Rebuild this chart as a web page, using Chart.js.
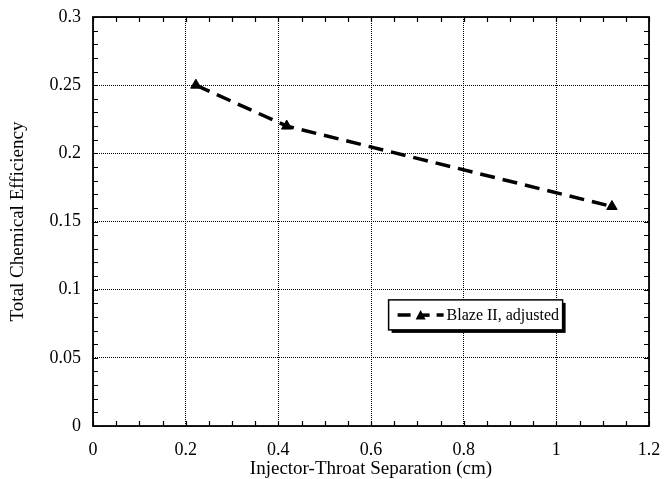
<!DOCTYPE html>
<html>
<head>
<meta charset="utf-8">
<script src="https://cdn.jsdelivr.net/npm/chart.js@4/dist/chart.umd.min.js"></script>
<style>
  html, body { margin: 0; padding: 0; background: #fff; }
  #wrap { width: 665px; height: 479px; }
</style>
</head>
<body>
<div id="wrap"><canvas id="c" width="665" height="479"></canvas></div>
<script>
// Injector-throat separation (cm) and total chemical efficiency
const separation = [0.222, 0.418, 1.12];
const efficiency = [0.25, 0.22, 0.161];
const seriesLabel = 'Blaze II, adjusted';

const xTickValues = [0, 0.2, 0.4, 0.6, 0.8, 1, 1.2];
const xTickLabels = ['0', '0.2', '0.4', '0.6', '0.8', '1', '1.2'];
const yTickValues = [0, 0.05, 0.1, 0.15, 0.2, 0.25, 0.3];
const yTickLabels = ['0', '0.05', '0.1', '0.15', '0.2', '0.25', '0.3'];

const FONT = '"Liberation Serif", "Times New Roman", serif';

function labelFor(values, labels, v) {
  for (let i = 0; i < values.length; i++) {
    if (Math.abs(values[i] - v) < 1e-6) return labels[i];
  }
  return '';
}

// Plot frame with inward minor ticks on all four sides
const framePlugin = {
  id: 'frame',
  afterDatasetsDraw(chart) {
    const { ctx, chartArea: a, scales } = chart;
    const xs = scales.x, ys = scales.y;
    ctx.save();
    ctx.strokeStyle = '#000';
    ctx.lineWidth = 1.2;
    ctx.beginPath();
    for (let i = 0; i <= 24; i++) {
      const px = Math.round(xs.getPixelForValue(i * 0.05)) + 0.5;
      ctx.moveTo(px, a.bottom); ctx.lineTo(px, a.bottom - 5);
      ctx.moveTo(px, a.top); ctx.lineTo(px, a.top + 5);
    }
    for (let i = 0; i <= 30; i++) {
      const py = Math.round(ys.getPixelForValue(i * 0.01)) + 0.5;
      ctx.moveTo(a.left, py); ctx.lineTo(a.left + 5, py);
      ctx.moveTo(a.right, py); ctx.lineTo(a.right - 5, py);
    }
    ctx.stroke();
    ctx.lineWidth = 1.8;
    ctx.strokeRect(a.left, a.top, a.right - a.left, a.bottom - a.top);
    ctx.restore();
  }
};

// Boxed legend with drop shadow inside the plot area
const legendBoxPlugin = {
  id: 'legendBox',
  afterDraw(chart) {
    const { ctx, scales } = chart;
    const ds = chart.data.datasets[0];
    const x0 = scales.x.getPixelForValue(0.638);
    const y0 = scales.y.getPixelForValue(0.0925);
    const w = 174, h = 30;
    ctx.save();
    ctx.fillStyle = '#000';
    ctx.fillRect(x0 + 3, y0 + 3, w, h);
    ctx.fillStyle = '#fff';
    ctx.fillRect(x0, y0, w, h);
    ctx.strokeStyle = '#000';
    ctx.lineWidth = 1.5;
    ctx.strokeRect(x0, y0, w, h);
    const cy = y0 + h / 2;
    ctx.fillStyle = '#000';
    ctx.lineWidth = 3.5;
    ctx.beginPath();
    ctx.moveTo(x0 + 9, cy); ctx.lineTo(x0 + 22, cy);
    ctx.moveTo(x0 + 48, cy); ctx.lineTo(x0 + 55, cy);
    ctx.stroke();
    ctx.beginPath();
    ctx.moveTo(x0 + 27, cy + 4.5); ctx.lineTo(x0 + 32, cy - 5); ctx.lineTo(x0 + 37, cy + 4.5);
    ctx.closePath();
    ctx.fill();
    ctx.fillRect(x0 + 33, cy - 1.5, 8, 3.5);
    ctx.font = '16px ' + FONT;
    ctx.textBaseline = 'middle';
    ctx.textAlign = 'left';
    ctx.fillText(ds.label, x0 + 58, cy + 1);
    ctx.restore();
  }
};

new Chart(document.getElementById('c'), {
  type: 'scatter',
  data: {
    datasets: [{
      label: seriesLabel,
      data: separation.map((x, i) => ({ x: x, y: efficiency[i] })),
      showLine: true,
      borderColor: '#000',
      backgroundColor: '#000',
      borderWidth: 3.5,
      borderDash: [15, 8],
      tension: 0,
      pointStyle: 'triangle',
      pointRadius: 6,
      pointBorderWidth: 1,
      pointBackgroundColor: '#000',
      pointBorderColor: '#000'
    }]
  },
  options: {
    responsive: false,
    animation: false,
    devicePixelRatio: 1,
    layout: { padding: { left: 0, right: 16, top: 17, bottom: 0 } },
    plugins: { legend: { display: false }, tooltip: { enabled: false } },
    scales: {
      x: {
        type: 'linear',
        min: 0, max: 1.2,
        afterFit(s) { s.height = 53; s.paddingLeft = 0; s.paddingRight = 0; },
        afterBuildTicks(s) { s.ticks = xTickValues.map(v => ({ value: v })); },
        ticks: {
          color: '#000',
          font: { family: FONT, size: 18 },
          padding: 13,
          maxRotation: 0,
          callback: v => labelFor(xTickValues, xTickLabels, v)
        },
        grid: { color: '#000', lineWidth: 1, drawTicks: false },
        border: { display: false, dash: [1, 1] },
        title: {
          display: true,
          text: 'Injector-Throat Separation (cm)',
          color: '#000',
          font: { family: FONT, size: 19, lineHeight: 1 },
          padding: { top: 0, bottom: 0 }
        }
      },
      y: {
        type: 'linear',
        min: 0, max: 0.3,
        afterFit(s) { s.width = 93; s.paddingTop = 0; s.paddingBottom = 0; },
        afterBuildTicks(s) { s.ticks = yTickValues.map(v => ({ value: v })); },
        ticks: {
          color: '#000',
          font: { family: FONT, size: 18 },
          padding: 12,
          callback: v => labelFor(yTickValues, yTickLabels, v)
        },
        grid: { color: '#000', lineWidth: 1, drawTicks: false },
        border: { display: false, dash: [1, 1] },
        title: {
          display: true,
          text: 'Total Chemical Efficiency',
          color: '#000',
          font: { family: FONT, size: 19, lineHeight: 1 },
          padding: { top: 9, bottom: 0 }
        }
      }
    }
  },
  plugins: [framePlugin, legendBoxPlugin]
});
</script>
</body>
</html>
